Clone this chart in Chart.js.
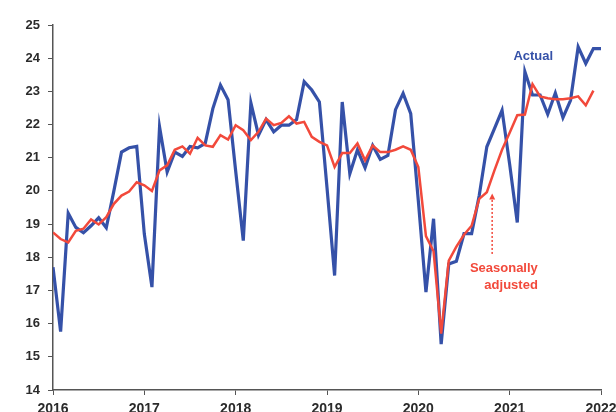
<!DOCTYPE html>
<html>
<head>
<meta charset="utf-8">
<script src="https://cdn.jsdelivr.net/npm/chart.js@4/dist/chart.umd.min.js"></script>
<style>
  html, body { margin: 0; padding: 0; background: #fff; }
  canvas { display: block; }
</style>
</head>
<body>
<canvas id="chart" width="616" height="412"></canvas>
<script>
// monthly values, Jan 2016 onwards (index = months since Jan 2016)
const startYear = 2016;
const actual = [
  17.7, 15.76, 19.33, 18.9, 18.74, 18.95, 19.19, 18.89, 20.0, 21.17, 21.3, 21.34,
  18.7, 17.1, 21.93, 20.57, 21.17, 21.04, 21.34, 21.3, 21.43, 22.48, 23.19, 22.75,
  20.6, 18.5, 22.65, 21.68, 22.15, 21.78, 21.98, 21.98, 22.15, 23.29, 23.04, 22.68,
  20.1, 17.45, 22.68, 20.52, 21.24, 20.7, 21.37, 20.95, 21.07, 22.45, 22.94, 22.33,
  19.7, 16.95, 19.16, 15.38, 17.8, 17.88, 18.71, 18.71, 19.86, 21.33, 21.88, 22.43,
  20.8, 19.05, 23.59, 22.89, 22.89, 22.31, 22.95, 22.21, 22.73, 24.34, 23.84, 24.29,
  24.29
];
const seasonal = [
  18.75, 18.55, 18.45, 18.8, 18.86, 19.14, 18.99, 19.21, 19.61, 19.86, 19.98, 20.26,
  20.17, 20.0, 20.62, 20.77, 21.24, 21.34, 21.12, 21.6, 21.37, 21.33, 21.68, 21.55,
  21.98, 21.83, 21.53, 21.78, 22.18, 21.98, 22.05, 22.25, 22.03, 22.08, 21.63, 21.48,
  21.37, 20.72, 21.14, 21.14, 21.43, 20.92, 21.37, 21.17, 21.17, 21.24, 21.34, 21.24,
  20.72, 18.64, 18.18, 15.7, 17.9, 18.32, 18.68, 18.95, 19.76, 19.96, 20.62, 21.24,
  21.75, 22.28, 22.3, 23.22, 22.85, 22.79, 22.76, 22.76, 22.79, 22.85, 22.58, 23.02
];
const yearTicks = [2016, 2017, 2018, 2019, 2020, 2021, 2022];

const blue = '#3551a8';
const red = '#f2493b';

const toPoints = arr => arr.map((v, i) => ({ x: i, y: v }));

// text labels placed in data coordinates
const notes = {
  actual: { x: 63.1, y: 24.05, text: ['Actual'] },
  seasonal: { x: 63.7, y: 17.66, text: ['Seasonally', 'adjusted'] },
  arrow: { x: 57.7, from: 18.1, to: 19.92 }
};

const notePlugin = {
  id: 'notes',
  afterDatasetsDraw(chart) {
    const { ctx, scales: { x, y } } = chart;
    ctx.save();
    ctx.font = 'bold 13px "Liberation Sans", Arial, sans-serif';
    ctx.textBaseline = 'middle';

    ctx.fillStyle = blue;
    ctx.textAlign = 'center';
    ctx.fillText(notes.actual.text[0], x.getPixelForValue(notes.actual.x), y.getPixelForValue(notes.actual.y));

    ctx.fillStyle = red;
    ctx.textAlign = 'right';
    const sx = x.getPixelForValue(notes.seasonal.x);
    const sy = y.getPixelForValue(notes.seasonal.y);
    notes.seasonal.text.forEach((t, i) => ctx.fillText(t, sx, sy + i * 17));

    // dotted arrow
    const ax = x.getPixelForValue(notes.arrow.x);
    const y0 = y.getPixelForValue(notes.arrow.from);
    const y1 = y.getPixelForValue(notes.arrow.to);
    ctx.strokeStyle = red;
    ctx.lineWidth = 1.5;
    ctx.setLineDash([2, 2]);
    ctx.beginPath();
    ctx.moveTo(ax, y0);
    ctx.lineTo(ax, y1 + 4);
    ctx.stroke();
    ctx.setLineDash([]);
    ctx.beginPath();
    ctx.moveTo(ax, y1);
    ctx.lineTo(ax - 3, y1 + 6);
    ctx.lineTo(ax + 3, y1 + 6);
    ctx.closePath();
    ctx.fill();
    ctx.restore();
  }
};

const ctx = document.getElementById('chart').getContext('2d');
new Chart(ctx, {
  type: 'line',
  data: {
    datasets: [
      {
        label: 'Seasonally adjusted',
        data: toPoints(seasonal),
        borderColor: red,
        borderWidth: 2.5,
        pointRadius: 0,
        tension: 0
      },
      {
        label: 'Actual',
        data: toPoints(actual),
        borderColor: blue,
        borderWidth: 3.2,
        pointRadius: 0,
        tension: 0
      }
    ]
  },
  options: {
    responsive: false,
    animation: false,
    devicePixelRatio: 1,
    layout: { padding: { top: 25, right: 15, left: 0, bottom: 0 } },
    plugins: {
      legend: { display: false },
      tooltip: { enabled: false }
    },
    scales: {
      x: {
        type: 'linear',
        min: 0,
        max: (yearTicks[yearTicks.length - 1] - startYear) * 12,
        afterFit: scale => {
          scale.height = 22;
          scale.paddingLeft = 0;
          scale.paddingRight = 0;
        },
        afterBuildTicks: scale => {
          scale.ticks = yearTicks.map(yr => ({ value: (yr - startYear) * 12 }));
        },
        ticks: {
          callback: v => String(startYear + v / 12),
          color: '#2b2b2b',
          font: { family: '"Liberation Sans", Arial, sans-serif', size: 14, weight: 'bold' },
          padding: 6,
          maxRotation: 0
        },
        grid: { drawOnChartArea: false, tickLength: 5, color: '#555' },
        border: { color: '#555', width: 1.5 }
      },
      y: {
        min: 14,
        max: 25,
        afterFit: scale => {
          scale.width = 53;
          scale.paddingTop = 0;
          scale.paddingBottom = 0;
        },
        ticks: {
          stepSize: 1,
          color: '#2b2b2b',
          font: { family: '"Liberation Sans", Arial, sans-serif', size: 13, weight: 'bold' },
          padding: 8
        },
        grid: { drawOnChartArea: false, tickLength: 5, color: '#555' },
        border: { color: '#555', width: 1.5 }
      }
    }
  },
  plugins: [notePlugin]
});
</script>
</body>
</html>
